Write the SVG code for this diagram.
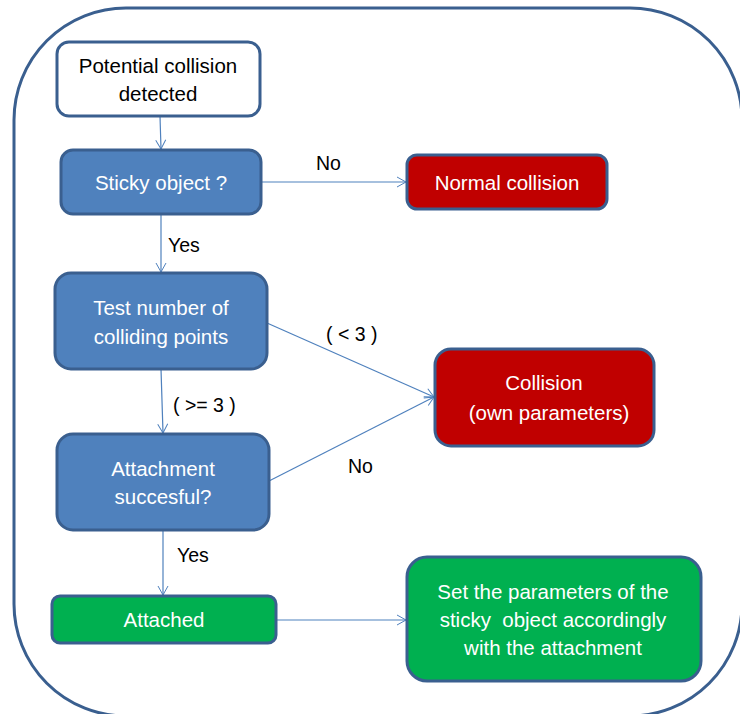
<svg xmlns="http://www.w3.org/2000/svg" width="740" height="714" viewBox="0 0 740 714">
<defs>
<marker id="arr" markerWidth="12" markerHeight="12" refX="10" refY="6" orient="auto" markerUnits="userSpaceOnUse">
<path d="M1,1 L10,6 L1,11" fill="none" stroke="#4f81bd" stroke-width="1"/>
</marker>
<style>
.box{stroke:#3a5f8f;stroke-width:3}
.blue{fill:#4f81bd}
.red{fill:#c00000}
.green{fill:#00b050}
.white{fill:#ffffff}
text{font-family:"Liberation Sans",Arial,sans-serif;font-size:20.5px;text-anchor:middle}
.lt{fill:#ffffff}
.dk{fill:#000000}
.lbl{fill:#000000;text-anchor:start;font-size:19.5px}
.conn{stroke:#4f81bd;stroke-width:1.2;fill:none;marker-end:url(#arr)}
</style>
</defs>
<rect x="14" y="8" width="728" height="708" rx="112" ry="112" fill="#ffffff" stroke="#3a5f8f" stroke-width="3"/>
<g id="connectors">
<line class="conn" x1="160" y1="116" x2="161" y2="149"/>
<line class="conn" x1="261" y1="182" x2="406" y2="182"/>
<line class="conn" x1="161" y1="214" x2="161" y2="272"/>
<line class="conn" x1="267" y1="323" x2="434" y2="397"/>
<line class="conn" x1="269" y1="481" x2="434" y2="397"/>
<line class="conn" x1="161" y1="369" x2="163" y2="433"/>
<line class="conn" x1="163" y1="530" x2="163" y2="595"/>
<line class="conn" x1="276" y1="620" x2="406" y2="620"/>
<text class="lbl" x="316" y="170">No</text>
<text class="lbl" x="168" y="252">Yes</text>
<text class="lbl" x="326" y="341">( &lt; 3 )</text>
<text class="lbl" x="173" y="412">( &gt;= 3 )</text>
<text class="lbl" x="348" y="473">No</text>
<text class="lbl" x="177" y="562">Yes</text>
</g>
<g id="n1">
<rect class="box white" x="57" y="42" width="203" height="74" rx="12"/>
<text class="dk" x="158" y="73">Potential collision</text>
<text class="dk" x="158" y="101">detected</text>
</g>
<g id="n2">
<rect class="box blue" x="61" y="150" width="200" height="64" rx="12"/>
<text class="lt" x="161" y="190">Sticky object ?</text>
</g>
<g id="n3">
<rect class="box red" x="407" y="155" width="200" height="54" rx="10"/>
<text class="lt" x="507" y="190">Normal collision</text>
</g>
<g id="n4">
<rect class="box blue" x="55" y="273" width="212" height="96" rx="16"/>
<text class="lt" x="161" y="315">Test number of</text>
<text class="lt" x="161" y="344">colliding points</text>
</g>
<g id="n5">
<rect class="box blue" x="57" y="434" width="212" height="96" rx="16"/>
<text class="lt" x="163" y="476">Attachment</text>
<text class="lt" x="163" y="504">succesful?</text>
</g>
<g id="n6">
<rect class="box red" x="435" y="349" width="219" height="97" rx="16"/>
<text class="lt" x="544" y="390">Collision</text>
<text class="lt" x="549" y="420">(own parameters)</text>
</g>
<g id="n7">
<rect class="box green" x="52" y="596" width="224" height="47" rx="8"/>
<text class="lt" x="164" y="627">Attached</text>
</g>
<g id="n8">
<rect class="box green" x="407" y="557" width="294" height="124" rx="20"/>
<text class="lt" x="553" y="599">Set the parameters of the</text>
<text class="lt" x="553" y="627">sticky&#160; object accordingly</text>
<text class="lt" x="553" y="655">with the attachment</text>
</g>
</svg>
